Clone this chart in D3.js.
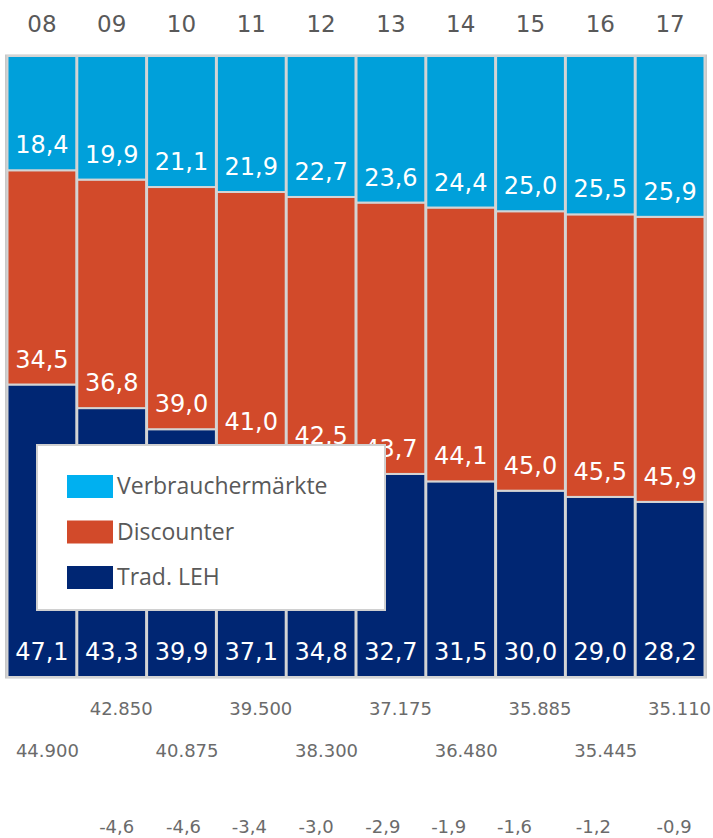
<!DOCTYPE html>
<html><head><meta charset="utf-8">
<script src="https://cdn.jsdelivr.net/npm/d3@7"></script>
<style>html,body{margin:0;padding:0;background:#fff;}svg{display:block;}</style>
</head><body>
<svg id="c" width="713" height="838"></svg>
<script>
const years = ["08","09","10","11","12","13","14","15","16","17"];
const tradLEH = [47.1,43.3,39.9,37.1,34.8,32.7,31.5,30.0,29.0,28.2];
const discounter = [34.5,36.8,39.0,41.0,42.5,43.7,44.1,45.0,45.5,45.9];
const verbraucher = [18.4,19.9,21.1,21.9,22.7,23.6,24.4,25.0,25.5,25.9];
const seriesNames = ["Trad. LEH","Discounter","Verbrauchermärkte"];
const row1Years = ["09","11","13","15","17"];
const row1Labels = ["42.850","39.500","37.175","35.885","35.110"];
const row2Years = ["08","10","12","14","16"];
const row2Labels = ["44.900","40.875","38.300","36.480","35.445"];
const row3Years = ["09","10","11","12","13","14","15","16","17"];
const row3Labels = ["-4,6","-4,6","-3,4","-3,0","-2,9","-1,9","-1,6","-1,2","-0,9"];
const row3Nudge = [5,2,-2,-5,-8,-12,-16,-7,4];

const colors = {"Trad. LEH":"#002673","Discounter":"#D24A2A","Verbrauchermärkte":"#00A0DA"};
const swatch = {"Trad. LEH":"#002673","Discounter":"#D24A2A","Verbrauchermärkte":"#00B0F0"};
const fmt = v => v.toFixed(1).replace(".", ",");

const svg = d3.select("#c");
const x = d3.scaleBand().domain(years).range([7,705]).padding(0);
const y = d3.scaleLinear().domain([0,100]).range([677,56]);

const table = years.map((yr,i)=>({year:yr,"Trad. LEH":tradLEH[i],"Discounter":discounter[i],"Verbrauchermärkte":verbraucher[i]}));
const stack = d3.stack().keys(seriesNames)(table);

// plot border
svg.append("rect").attr("x",6).attr("y",55.5).attr("width",700).attr("height",622)
  .attr("fill","none").attr("stroke","#c8c8c8").attr("stroke-width",2);

stack.forEach(layer=>{
  const g = svg.append("g");
  g.selectAll("rect").data(layer).join("rect")
    .attr("x",d=>x(d.data.year)+0.5).attr("width",x.bandwidth()-1)
    .attr("y",d=>y(d[1])).attr("height",d=>y(d[0])-y(d[1]))
    .attr("fill",colors[layer.key]).attr("stroke","#d4d4d4").attr("stroke-width",2);
});
stack.forEach(layer=>{
  svg.append("g").selectAll("text").data(layer).join("text")
    .attr("x",d=>x(d.data.year)+x.bandwidth()/2)
    .attr("y",d=>y(d[0])-17)
    .attr("text-anchor","middle").attr("fill","#fff")
    .style("font-family","'DejaVu Sans'").style("font-size","24px")
    .text(d=>fmt(d.data[layer.key]));
});

// top axis
const xAxis = d3.axisTop(x).tickSize(0).tickPadding(0);
const ax = svg.append("g").attr("transform","translate(0,32)").call(xAxis);
ax.select(".domain").remove();
ax.selectAll("text").style("font-family","'DejaVu Sans'").style("font-size","23px").attr("fill","#595959").attr("dy",0);

// legend
const lg = svg.append("g");
lg.append("rect").attr("x",37).attr("y",445).attr("width",348).attr("height",165)
  .attr("fill","#fff").attr("stroke","#d0d0d0").attr("stroke-width",2);
const legendOrder = ["Verbrauchermärkte","Discounter","Trad. LEH"];
legendOrder.forEach((k,i)=>{
  lg.append("rect").attr("x",67).attr("y",475+i*45.5).attr("width",46).attr("height",23).attr("fill",swatch[k]);
  lg.append("text").attr("x",117).attr("y",494+i*45.5).style("font-family","'Open Sans'").style("font-size","23px")
    .attr("fill","#595959").text(k);
});

// bottom rows
const bottomFont = g => g.style("font-family","'DejaVu Sans'").style("font-size","18px").attr("fill","#6b6b6b").attr("text-anchor","middle");
svg.append("g").call(bottomFont).selectAll("text").data(row1Labels).join("text")
  .attr("x",(d,i)=>x(row1Years[i])+x.bandwidth()/2+9.5).attr("y",715).text(d=>d);
svg.append("g").call(bottomFont).selectAll("text").data(row2Labels).join("text")
  .attr("x",(d,i)=>x(row2Years[i])+x.bandwidth()/2+5.5).attr("y",757).text(d=>d);
svg.append("g").call(bottomFont).selectAll("text").data(row3Labels).join("text")
  .attr("x",(d,i)=>x(row3Years[i])+x.bandwidth()/2+row3Nudge[i]).attr("y",833).text(d=>d);
</script>
</body></html>
